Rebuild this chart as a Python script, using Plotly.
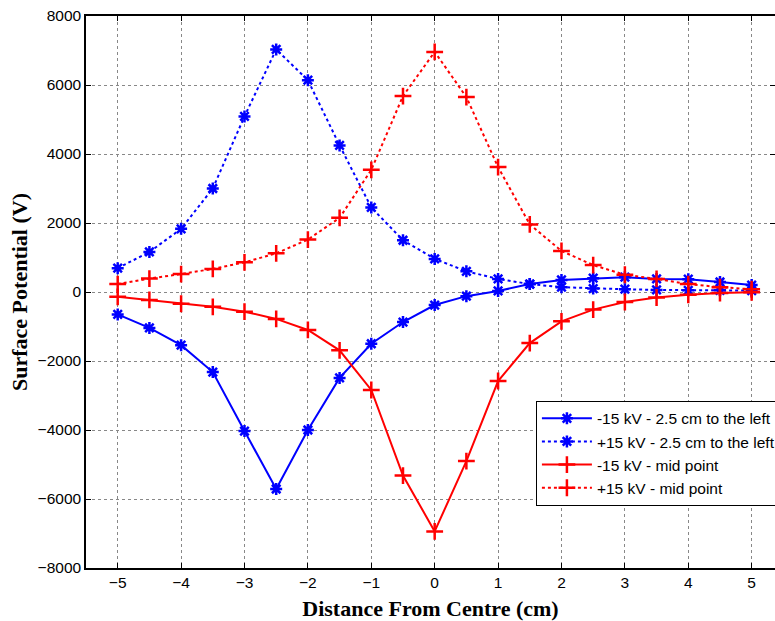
import plotly.graph_objects as go

x = [-5, -4.5, -4, -3.5, -3, -2.5, -2, -1.5, -1, -0.5, 0, 0.5, 1, 1.5, 2, 2.5, 3, 3.5, 4, 4.5, 5]

neg_left = [-650, -1040, -1540, -2320, -4030, -5710, -4000, -2490, -1500, -870, -377, -120, 30, 230, 350, 400, 430, 380, 370, 290, 200]
pos_left = [690, 1160, 1830, 3000, 5090, 7030, 6140, 4250, 2450, 1500, 960, 600, 380, 230, 140, 100, 80, 60, 50, 50, 40]
neg_mid = [-140, -230, -340, -430, -570, -780, -1100, -1690, -2840, -5320, -6940, -4900, -2580, -1480, -850, -510, -290, -160, -80, -30, -10]
pos_mid = [230, 390, 520, 670, 860, 1120, 1520, 2150, 3540, 5680, 6960, 5650, 3620, 1960, 1190, 780, 500, 380, 230, 140, 80]

names = ["-15 kV - 2.5 cm to the left", "+15 kV - 2.5 cm to the left",
         "-15 kV - mid point", "+15 kV - mid point"]

x_ticks = [-5, -4, -3, -2, -1, 0, 1, 2, 3, 4, 5]
y_ticks = [-8000, -6000, -4000, -2000, 0, 2000, 4000, 6000, 8000]

fig = go.Figure()
series = [
    (neg_left, names[0], "blue", "solid", "asterisk-open", 10),
    (pos_left, names[1], "blue", "dot", "asterisk-open", 10),
    (neg_mid, names[2], "red", "solid", "cross-thin-open", 12),
    (pos_mid, names[3], "red", "dot", "cross-thin-open", 12),
]
for ys, nm, col, dash, sym, sz in series:
    fig.add_trace(go.Scatter(
        x=x, y=ys, name=nm, mode="lines+markers",
        line=dict(color=col, width=2, dash=dash),
        marker=dict(symbol=sym, size=sz, color=col, line=dict(color=col, width=2.5)),
    ))

axis_common = dict(
    showline=True, linecolor="black", linewidth=1.5,
    ticks="inside", ticklen=5, tickcolor="black", tickwidth=1,
    showgrid=True, gridcolor="#888888", griddash="dot", gridwidth=1,
    zeroline=False,
    tickfont=dict(family="Liberation Sans, Arial", size=15.5, color="black"),
)

fig.update_layout(
    width=775, height=621,
    margin=dict(l=86, r=0, t=16, b=53, autoexpand=False),
    paper_bgcolor="white", plot_bgcolor="white",
    xaxis=dict(range=[-5.5, 5.368], tickvals=x_ticks, mirror="ticks",
               title=dict(text="<b>Distance From Centre (cm)</b>", standoff=10,
                          font=dict(family="Liberation Serif, Times New Roman", size=22, color="black")),
               **axis_common),
    yaxis=dict(range=[-8000, 8000], tickvals=y_ticks, mirror="ticks",
               title=dict(text="<b>Surface Potential (V)</b>", standoff=4,
                          font=dict(family="Liberation Serif, Times New Roman", size=22, color="black")),
               **axis_common),
    legend=dict(x=0.653, y=0.303, xanchor="left", yanchor="top",
                bgcolor="white", bordercolor="black", borderwidth=1,
                font=dict(family="Liberation Sans, Arial", size=15.5, color="black"),
                tracegroupgap=0, itemwidth=50),
    showlegend=True,
)

fig.write_html("out.html")
